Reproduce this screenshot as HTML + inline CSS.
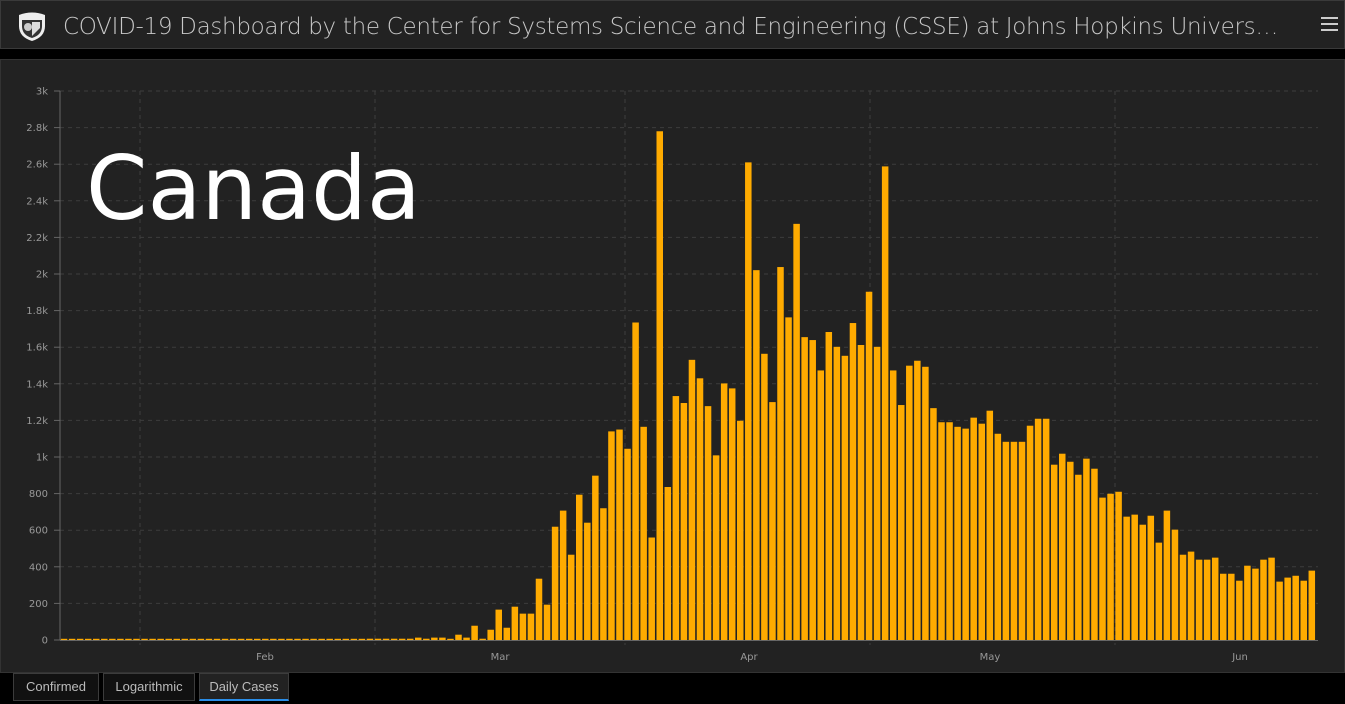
<!DOCTYPE html>
<html><head><meta charset="utf-8">
<style>
body{margin:0;width:1345px;height:704px;background:#000;overflow:hidden;font-family:"Liberation Sans",sans-serif;}
#hdr{position:absolute;left:0;top:0;width:1343px;height:47px;background:#222;border:1px solid #3a3a3a;}
#title{position:absolute;left:62px;top:13px;width:1216px;font-size:23px;color:#c8c8c8;white-space:nowrap;overflow:hidden;text-overflow:ellipsis;font-family:"DejaVu Sans","Liberation Sans",sans-serif;font-weight:300;letter-spacing:-0.3px;}
#panel{position:absolute;left:0;top:59px;width:1343px;height:612px;background:#222;border:1px solid #333;}
.tab{position:absolute;top:673px;height:26px;border:1px solid #3c3c3c;background:#111;color:#bbb;font-size:13px;line-height:26px;text-align:center;}
</style></head><body>
<div id="hdr">
<svg style="position:absolute;left:15px;top:9px" width="32" height="32" viewBox="0 0 32 32"><path d="M3 5 Q16 0 29 5 L29 16 Q29 27 16 31 Q3 27 3 16Z" fill="#eee"/><path d="M6 10 L26 10 L26 16 Q26 25 16 28 Q6 25 6 16Z" fill="#333"/><circle cx="12" cy="17" r="4" fill="#ccc"/><path d="M16 12 L24 12 L24 18 L16 26Z" fill="#ddd"/></svg>
<div id="title">COVID-19 Dashboard by the Center for Systems Science and Engineering (CSSE) at Johns Hopkins University (JHU)</div>
<svg style="position:absolute;left:1320px;top:16px" width="18" height="16"><rect y="0" width="17" height="2" fill="#ccc"/><rect y="6" width="17" height="2" fill="#ccc"/><rect y="12" width="17" height="2" fill="#ccc"/></svg>
</div>
<div id="panel"></div>
<svg id="ch" style="position:absolute;left:0;top:0" width="1345" height="704"></svg>
<div class="tab" style="left:13px;width:84px">Confirmed</div>
<div class="tab" style="left:103px;width:90px">Logarithmic</div>
<div class="tab" style="left:199px;width:88px;background:#222;border-bottom:2px solid #2a8ee8;height:25px">Daily Cases</div>
<script>
var v=[7,7,7,7,7,7,13,7,13,13,0,29,13,78,7,56,166,67,182,144,144,335,193,619,707,466,794,641,898,720,1140,1150,1045,1735,1165,560,2780,836,1333,1295,1531,1430,1278,1009,1402,1375,1198,2610,2021,1564,1300,2038,1763,2274,1655,1639,1473,1683,1602,1553,1732,1612,1903,1602,2588,1473,1284,1499,1526,1493,1267,1190,1190,1165,1155,1215,1182,1253,1127,1083,1083,1083,1171,1209,1209,958,1018,974,903,991,936,778,799,810,674,685,630,679,532,707,603,466,483,439,439,450,362,362,324,406,390,439,450,319,341,351,324,379];
var s='';
var y0=640,k=549/3000;
var lab=['0','200','400','600','800','1k','1.2k','1.4k','1.6k','1.8k','2k','2.2k','2.4k','2.6k','2.8k','3k'];
for(var i=0;i<=15;i++){var y=y0-i*200*k;
 if(i>0)s+='<line x1="60" x2="1318" y1="'+y+'" y2="'+y+'" stroke="#3d3d3d" stroke-dasharray="4,4"/>';
 s+='<line x1="54" x2="60" y1="'+y+'" y2="'+y+'" stroke="#666"/>';
 s+='<text x="48" y="'+(y+3.5)+'" fill="#999" font-size="10" text-anchor="end" font-family="DejaVu Sans,sans-serif">'+lab[i]+'</text>';}
[140,375,625,870,1115].forEach(function(x){s+='<line x1="'+x+'" x2="'+x+'" y1="91" y2="645" stroke="#3d3d3d" stroke-dasharray="4,4"/>';});
s+='<line x1="60" x2="60" y1="91" y2="640" stroke="#666"/><line x1="60" x2="1318" y1="640.5" y2="640.5" stroke="#666"/>';
[['Feb',265],['Mar',500],['Apr',749],['May',990],['Jun',1240]].forEach(function(m){s+='<text x="'+m[1]+'" y="660" fill="#999" font-size="10" text-anchor="middle" font-family="DejaVu Sans,sans-serif">'+m[0]+'</text>';});
for(var i=0;i<156;i++){var val=i<38?6:v[i-38];var h=Math.max(1.2,val*k);var x=60+i*8.05+0.8;
 s+='<rect x="'+x.toFixed(2)+'" y="'+(y0-h).toFixed(2)+'" width="6.5" height="'+h.toFixed(2)+'" fill="#ffab00"/>';}
s+='<text x="86" y="219" fill="#fff" font-size="88" font-family="DejaVu Sans,sans-serif">Canada</text>';
document.getElementById('ch').innerHTML=s;
</script>
</body></html>
